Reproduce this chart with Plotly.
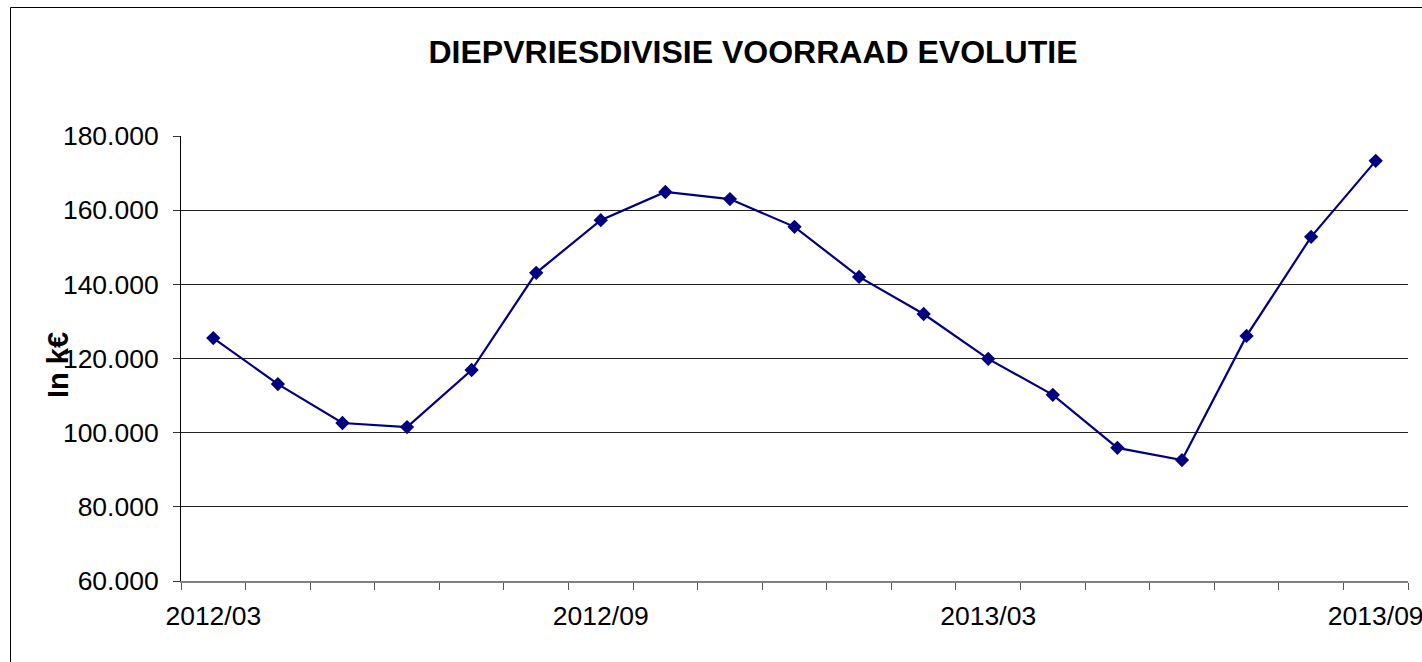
import plotly.graph_objects as go

months = ["2012/03", "2012/04", "2012/05", "2012/06", "2012/07", "2012/08", "2012/09",
          "2012/10", "2012/11", "2012/12", "2013/01", "2013/02", "2013/03", "2013/04",
          "2013/05", "2013/06", "2013/07", "2013/08", "2013/09"]
voorraad = [125500, 113100, 102600, 101500, 116900, 143100, 157300,
            164900, 163000, 155500, 142000, 132000, 119900, 110200,
            95900, 92600, 126100, 152800, 173300]
label_idx = [0, 6, 12, 18]
y_ticks = [60000, 80000, 100000, 120000, 140000, 160000, 180000]

W, H = 1422, 662
L, R, T, B = 181, 14, 136, 81
pw, ph = W - L - R, H - T - B

x_idx = list(range(len(months)))

fig = go.Figure()
fig.add_trace(go.Scatter(
    x=x_idx, y=voorraad, mode="lines+markers",
    line=dict(color="#000080", width=2.2),
    marker=dict(symbol="diamond", size=11, color="#000080"),
    hoverinfo="skip", showlegend=False,
))

font_family = "Arial, 'Liberation Sans', sans-serif"

fig.update_layout(
    width=W, height=H,
    margin=dict(l=L, r=R, t=T, b=B, autoexpand=False),
    paper_bgcolor="white", plot_bgcolor="white",
    separators=",.",
    font=dict(family=font_family, color="black", size=26),
    title=dict(text="<b>DIEPVRIESDIVISIE VOORRAAD EVOLUTIE</b>",
               x=753 / W, xanchor="center", xref="container",
               y=1 - 52 / H, yanchor="middle",
               font=dict(size=32, family=font_family, color="black")),
    xaxis=dict(
        range=[-0.5, len(months) - 0.5],
        tickmode="array", tickvals=label_idx,
        ticktext=[months[i] for i in label_idx],
        ticks="", showgrid=False, zeroline=False,
        showline=True, linecolor="#808080", linewidth=2,
        tickfont=dict(size=26.5),
        ticklabelstandoff=10,
        ticklabeloverflow="allow",
        minor=dict(ticks="outside", ticklen=7, tickcolor="#555", tickwidth=1,
                   tick0=-0.5, dtick=1, showgrid=False),
    ),
    yaxis=dict(
        range=[60000, 180000],
        tickmode="array", tickvals=y_ticks,
        tickformat=",d",
        ticks="outside", ticklen=7, tickcolor="#333", tickwidth=1,
        showgrid=True, gridcolor="#222", gridwidth=1,
        zeroline=False, showline=True, linecolor="black", linewidth=1,
        tickfont=dict(size=26.5),
        ticklabelstandoff=9,
    ),
    annotations=[dict(
        text="<b>In k€</b>", textangle=-90,
        xref="paper", yref="paper",
        x=(58 - L) / pw, y=(H - B - 365) / ph,
        xanchor="center", yanchor="middle", showarrow=False,
        font=dict(size=29, family=font_family, color="black"),
    )],
    shapes=[dict(
        type="rect", xref="paper", yref="paper",
        x0=(10.5 - L) / pw, x1=(W + 10 - L) / pw,
        y0=-(B + 10) / ph, y1=1 + (T - 7.5) / ph,
        line=dict(color="black", width=1), layer="below",
    )],
)

fig.write_html("out.html", config={"displayModeBar": False},
               post_script="document.body.style.margin='0px';document.body.style.overflow='hidden';")
